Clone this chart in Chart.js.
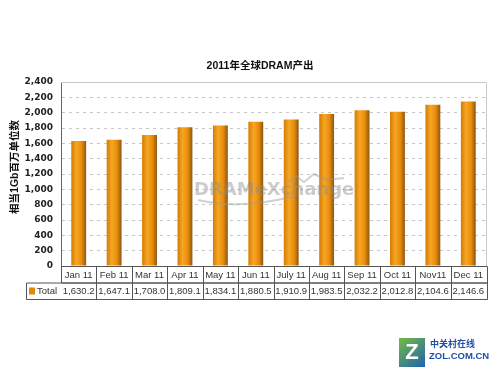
<!DOCTYPE html>
<html>
<head>
<meta charset="utf-8">
<script src="https://cdn.jsdelivr.net/npm/chart.js@4"></script>
<style>
  html, body { margin: 0; padding: 0; background: #fff; }
  #wrap { width: 501px; height: 376px; }
</style>
</head>
<body>
<div id="wrap"><canvas id="dramChart" width="501" height="376"></canvas></div>
<script>
// data
const months = ['Jan 11', 'Feb 11', 'Mar 11', 'Apr 11', 'May 11', 'Jun 11', 'July 11', 'Aug 11', 'Sep 11', 'Oct 11', 'Nov11', 'Dec 11'];
const totals = [1630.2, 1647.1, 1708.0, 1809.1, 1834.1, 1880.5, 1910.9, 1983.5, 2032.2, 2012.8, 2104.6, 2146.6];
const seriesName = 'Total';
const chartTitle = '2011年全球DRAM产出';
const yTitle = '相当1Gb百万单位数';

const BAR_PCT = 0.42;

function fmt(v, d) {
    return v.toLocaleString('en-US', { minimumFractionDigits: d, maximumFractionDigits: d });
}

// orange cylinder-ish gradient per bar
function barFill(ctx) {
    const chart = ctx.chart;
    const xs = chart.scales.x;
    if (!xs || !chart.chartArea) return '#E8900A';
    const cx = xs.getPixelForValue(ctx.dataIndex);
    const w = (xs.width / months.length) * BAR_PCT;
    const g = chart.ctx.createLinearGradient(cx - w / 2, 0, cx + w / 2, 0);
    g.addColorStop(0, '#D47C00');
    g.addColorStop(0.35, '#F8A626');
    g.addColorStop(0.7, '#E68C08');
    g.addColorStop(1, '#8A5518');
    return g;
}

const extras = {
    id: 'extras',
    beforeDatasetsDraw(chart) {
        const c = chart.ctx;
        const a = chart.chartArea;
        c.save();
        // plot frame
        c.strokeStyle = '#C8C8C8';
        c.lineWidth = 1;
        c.beginPath();
        c.moveTo(a.left, a.top + 0.5);
        c.lineTo(a.right + 0.5, a.top + 0.5);
        c.lineTo(a.right + 0.5, a.bottom);
        c.stroke();
        c.restore();
    },
    afterDatasetsDraw(chart) {
        const c = chart.ctx;
        const a = chart.chartArea;
        const xs = chart.scales.x;
        const catW = xs.width / months.length;
        c.save();

        // watermark
        c.globalAlpha = 0.45;
        c.fillStyle = '#8E8E8E';
        c.font = 'bold 18px "DejaVu Sans", Arial, sans-serif';
        c.textBaseline = 'middle';
        c.textAlign = 'left';
        c.fillText('DRAMeXchange', 194, 190);
        c.strokeStyle = '#9A9A9A';
        c.lineWidth = 2;
        c.beginPath();
        c.moveTo(198, 200);
        c.quadraticCurveTo(240, 210, 295, 196);
        c.stroke();
        c.beginPath();
        c.moveTo(285, 184);
        c.lineTo(296, 176);
        c.lineTo(304, 182);
        c.lineTo(314, 174);
        c.lineTo(326, 180);
        c.lineTo(344, 178);
        c.stroke();
        c.globalAlpha = 1;

        // data table
        const top = a.bottom;
        const rowH = 16.5;
        const tableLeft = 26;
        const tableRight = a.right + 1;
        c.strokeStyle = '#555';
        c.lineWidth = 1;
        c.beginPath();
        c.rect(a.left + 0.5, top + 0.5, tableRight - a.left, rowH);
        c.rect(tableLeft + 0.5, top + rowH + 0.5, tableRight - tableLeft, rowH);
        for (let i = 1; i < months.length; i++) {
            const x = Math.round(a.left + catW * i) + 0.5;
            c.moveTo(x, top);
            c.lineTo(x, top + 2 * rowH);
        }
        c.stroke();

        c.fillStyle = '#333';
        c.font = '9.5px Arial, "Liberation Sans", sans-serif';
        c.textAlign = 'center';
        c.textBaseline = 'middle';
        months.forEach((m, i) => {
            const cx = xs.getPixelForValue(i);
            c.fillText(m, cx, top + rowH / 2 + 1);
            c.fillText(fmt(totals[i], 1), cx, top + rowH * 1.5 + 1);
        });
        // legend cell
        c.fillStyle = '#E08A0A';
        c.fillRect(tableLeft + 3, top + rowH + 5, 6, 7);
        c.fillStyle = '#333';
        c.textAlign = 'left';
        c.fillText(seriesName, tableLeft + 11, top + rowH * 1.5 + 1);

        // titles
        c.font = 'bold 10.5px Arial, "Noto Sans CJK SC", sans-serif';
        c.textAlign = 'center';
        c.fillStyle = '#111';
        c.fillText(chartTitle, 260, 66);
        c.save();
        c.translate(15, 167);
        c.rotate(-Math.PI / 2);
        c.fillText(yTitle, 0, 0);
        c.restore();

        // ZOL logo
        const lg = c.createLinearGradient(398, 335, 426, 368);
        lg.addColorStop(0, '#7CC23A');
        lg.addColorStop(1, '#1A5FB4');
        c.fillStyle = lg;
        c.fillRect(399, 338, 26, 29);
        c.fillStyle = '#fff';
        c.font = 'bold 22px Arial, sans-serif';
        c.textAlign = 'center';
        c.fillText('Z', 412, 353);
        c.fillStyle = '#1E4FA8';
        c.textAlign = 'left';
        c.font = 'bold 9px "Noto Sans CJK SC", sans-serif';
        c.fillText('中关村在线', 430, 344);
        c.font = 'bold 9.5px Arial, sans-serif';
        c.fillText('ZOL.COM.CN', 429, 356);
        c.restore();
    }
};

const ctx = document.getElementById('dramChart').getContext('2d');
const chart = new Chart(ctx, {
    type: 'bar',
    data: {
        labels: months,
        datasets: [{
            label: seriesName,
            data: totals,
            backgroundColor: barFill,
            borderWidth: 0,
            barPercentage: BAR_PCT,
            categoryPercentage: 1
        }]
    },
    options: {
        responsive: false,
        animation: false,
        layout: { padding: { top: 82, right: 15, bottom: 110, left: 0 } },
        plugins: {
            legend: { display: false },
            tooltip: { enabled: false },
            title: { display: false }
        },
        scales: {
            x: {
                display: true,
                ticks: { display: false },
                grid: { display: false, drawTicks: false },
                border: { display: true, color: '#555' }
            },
            y: {
                min: 0,
                max: 2400,
                afterFit: s => { s.width = 61; },
                ticks: {
                    stepSize: 200,
                    padding: 8,
                    color: '#222',
                    font: { family: 'Verdana, "DejaVu Sans", sans-serif', size: 9, weight: 'bold' },
                    callback: v => fmt(v, 0)
                },
                grid: {
                    color: ctx => ctx.tick.value === 0 || ctx.tick.value === 2400 ? 'rgba(0,0,0,0)' : '#C8C8C8',
                    drawTicks: false
                },
                border: { display: true, color: '#666', dash: [3, 4] }
            }
        }
    },
    plugins: [extras]
});
</script>
</body>
</html>
